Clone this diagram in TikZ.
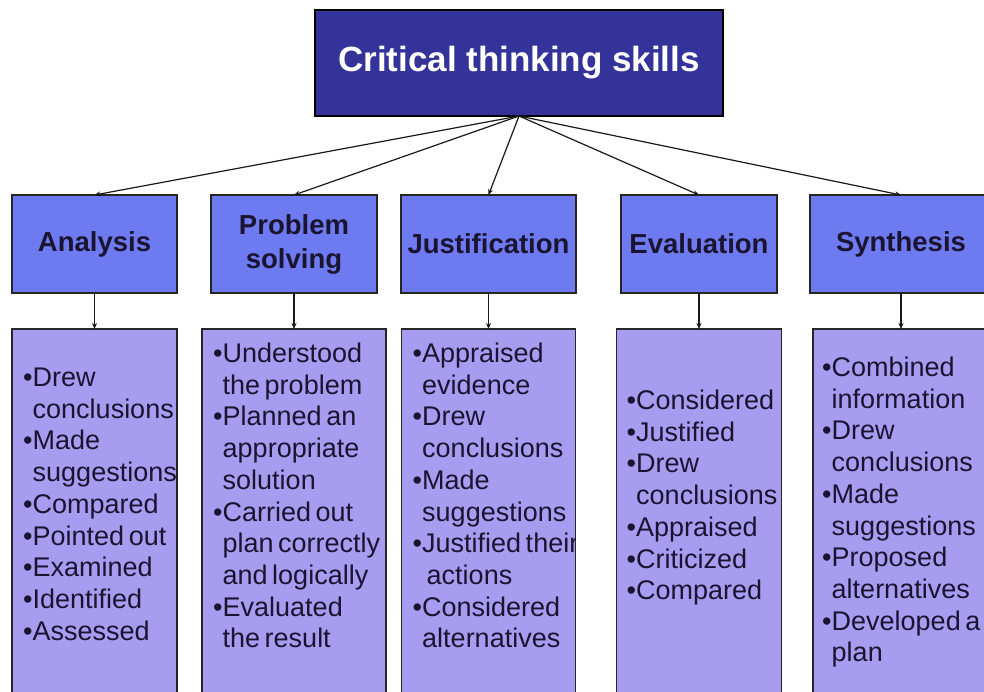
\documentclass[tikz,border=0pt]{standalone}
\usepackage{fontspec}
\setmainfont{Liberation Sans}
\usetikzlibrary{positioning,arrows.meta}

\definecolor{topblue}{RGB}{51,51,153}
\definecolor{headblue}{RGB}{110,122,240}
\definecolor{listlilac}{RGB}{168,156,240}
\definecolor{inkdark}{RGB}{26,20,48}

\newcommand{\bitem}{\makebox[0.36em][l]{\textbullet}}
\newcommand{\bcont}{\hspace*{0.36em}}
\newcommand{\listfont}{\fontsize{27}{31.7}\selectfont\spaceskip=4.5pt plus 1pt minus 1pt\relax}

\begin{document}
\begin{tikzpicture}[
	x = 1pt, y = -1pt,
	every node/.style = {inner sep = 0pt, outer sep = 0pt, text = inkdark},
	topbox/.style = {draw = black, line width = 1.6pt, fill = topblue, text = white,
		minimum width = 408pt, minimum height = 106pt,
		font = \bfseries\fontsize{35}{40}\selectfont},
	headbox/.style = {draw = black!85, line width = 1.4pt, fill = headblue,
		minimum height = 98pt, align = center,
		font = \bfseries\fontsize{27.5}{34}\selectfont},
	listbox/.style = {draw = black!85, line width = 1.4pt, fill = listlilac, minimum height = 392pt},
	listtext/.style = {anchor = north west, align = left, font = \listfont},
	link/.style = {draw = black!90, line width = 1.2pt, -{Stealth[length = 6pt, width = 5pt]}}
	]
	\useasboundingbox (0, 0) rectangle (984, 691);

	\node[topbox] (cts) at (519, 63) {Critical thinking skills};

	\node[headbox, minimum width = 165pt] (ana) at (94.5, 244) {Analysis};
	\node[headbox, minimum width = 166pt, right = 34pt of ana] (prs) {Problem\\solving};
	\node[headbox, minimum width = 175pt, right = 24pt of prs] (jus) {Justification};
	\node[headbox, minimum width = 156pt, right = 45pt of jus] (eva) {Evaluation};
	\node[headbox, minimum width = 182pt, right = 33pt of eva] (syn) {Synthesis};

	\node[listbox, minimum width = 165pt, below = 36pt of ana] (anl) {};
	\node[listbox, minimum width = 184pt, below = 36pt of prs] (prl) {};
	\node[listbox, minimum width = 174pt, below = 36pt of jus] (jul) {};
	\node[listbox, minimum width = 165pt, below = 36pt of eva] (evl) {};
	\node[listbox, minimum width = 176pt, below = 36pt of syn] (syl) {};

	\draw[link] (cts.south) -- (ana.north);
	\draw[link] (cts.south) -- (prs.north);
	\draw[link] (cts.south) -- (jus.north);
	\draw[link] (cts.south) -- (eva.north);
	\draw[link] (cts.south) -- (syn.north);

	\draw[link] (ana.south) -- (anl.north);
	\draw[link] (prs.south) -- (prl.north);
	\draw[link] (jus.south) -- (jul.north);
	\draw[link] (eva.south) -- (evl.north);
	\draw[link] (syn.south) -- (syl.north);

	\node[listtext] (antx) at ([shift = {(11pt, -39pt)}] anl.north west)
		{\bitem Drew\\ \bcont conclusions\\ \bitem Made\\ \bcont suggestions\\
		\bitem Compared\\ \bitem Pointed out\\ \bitem Examined\\ \bitem Identified\\ \bitem Assessed};
	\node[listtext] (prtx) at ([shift = {(11pt, -14pt)}] prl.north west)
		{\bitem Understood\\ \bcont the problem\\ \bitem Planned an\\ \bcont appropriate\\ \bcont solution\\
		\bitem Carried out\\ \bcont plan correctly\\ \bcont and logically\\ \bitem Evaluated\\ \bcont the result};
	\begin{scope}
		\clip (jul.north west) rectangle (jul.south east);
		\node[listtext] (jutx) at ([shift = {(11pt, -14pt)}] jul.north west)
			{\bitem Appraised\\ \bcont evidence\\ \bitem Drew\\ \bcont conclusions\\ \bitem Made\\ \bcont suggestions\\
			\bitem Justified their\\ \bcont\ actions\\ \bitem Considered\\ \bcont alternatives};
	\end{scope}
	\node[listtext] (evtx) at ([shift = {(10pt, -61pt)}] evl.north west)
		{\bitem Considered\\ \bitem Justified\\ \bitem Drew\\ \bcont conclusions\\
		\bitem Appraised\\ \bitem Criticized\\ \bitem Compared};
	\node[listtext] (sytx) at ([shift = {(9pt, -28pt)}] syl.north west)
		{\bitem Combined\\ \bcont information\\ \bitem Drew\\ \bcont conclusions\\ \bitem Made\\ \bcont suggestions\\
		\bitem Proposed\\ \bcont alternatives\\ \bitem Developed a\\ \bcont plan};
\end{tikzpicture}
\end{document}
